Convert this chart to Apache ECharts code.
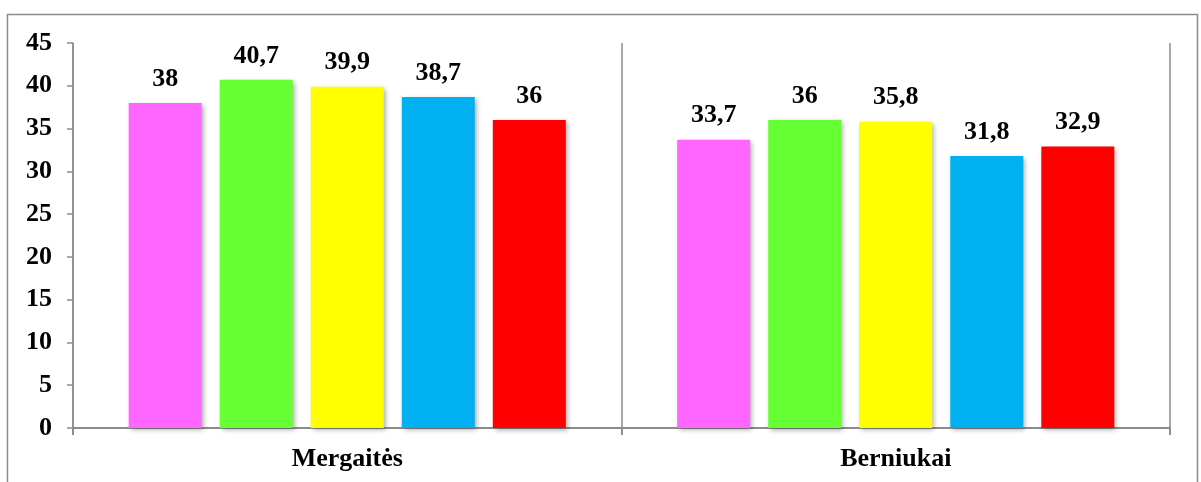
<!DOCTYPE html>
<html>
<head>
<meta charset="utf-8">
<script src="https://cdn.jsdelivr.net/npm/echarts@6/dist/echarts.min.js"></script>
<style>html,body{margin:0;padding:0;background:#fff;}#c{width:1201px;height:482px;}</style>
</head>
<body>
<div id="c"></div>
<script>
var categories = ['Mergaitės', 'Berniukai'];
var series1 = [38, 33.7];
var series2 = [40.7, 36];
var series3 = [39.9, 35.8];
var series4 = [38.7, 31.8];
var series5 = [36, 32.9];
var yTicks = [0, 5, 10, 15, 20, 25, 30, 35, 40, 45];
var colors = ['#FF66FF', '#66FF33', '#FFFF00', '#00B0F0', '#FF0000'];

var font = 'Liberation Serif';
function mk(data, i) {
  return {
    type: 'bar', data: data, barWidth: 73, barGap: '24.7%',
    itemStyle: { color: colors[i], shadowColor: 'rgba(0,0,0,0.35)', shadowBlur: 5, shadowOffsetX: 2, shadowOffsetY: 2 },
    label: { show: true, position: 'top', distance: 11, fontFamily: font, fontWeight: 'bold', fontSize: 26, color: '#000',
      formatter: function (p) { return String(p.value).replace('.', ','); } }
  };
}
var chart = echarts.init(document.getElementById('c'));
chart.setOption({
  animation: false,
  grid: { left: 73, right: 31, top: 43, bottom: 54 },
  graphic: [{ type: 'rect', shape: { x: 7.5, y: 14.5, width: 1190, height: 480 }, style: { fill: 'none', stroke: '#8c8c8c', lineWidth: 1.5 }, silent: true }],
  xAxis: {
    type: 'category', data: categories,
    axisLine: { lineStyle: { color: '#8c8c8c', width: 2 } },
    axisTick: { show: true, length: 7, lineStyle: { color: '#8c8c8c', width: 2 } },
    splitLine: { show: true, lineStyle: { color: '#8c8c8c', width: 1.5 } },
    axisLabel: { fontFamily: font, fontWeight: 'bold', fontSize: 26, color: '#000', margin: 18 }
  },
  yAxis: {
    type: 'value', min: yTicks[0], max: yTicks[yTicks.length - 1], interval: 5,
    axisLine: { show: true, lineStyle: { color: '#8c8c8c', width: 1.5 } },
    axisTick: { show: true, length: 6, lineStyle: { color: '#8c8c8c', width: 1.5 } },
    splitLine: { show: false },
    axisLabel: { fontFamily: font, fontWeight: 'bold', fontSize: 26, color: '#000', margin: 21 }
  },
  series: [mk(series1, 0), mk(series2, 1), mk(series3, 2), mk(series4, 3), mk(series5, 4)]
});
</script>
</body>
</html>
